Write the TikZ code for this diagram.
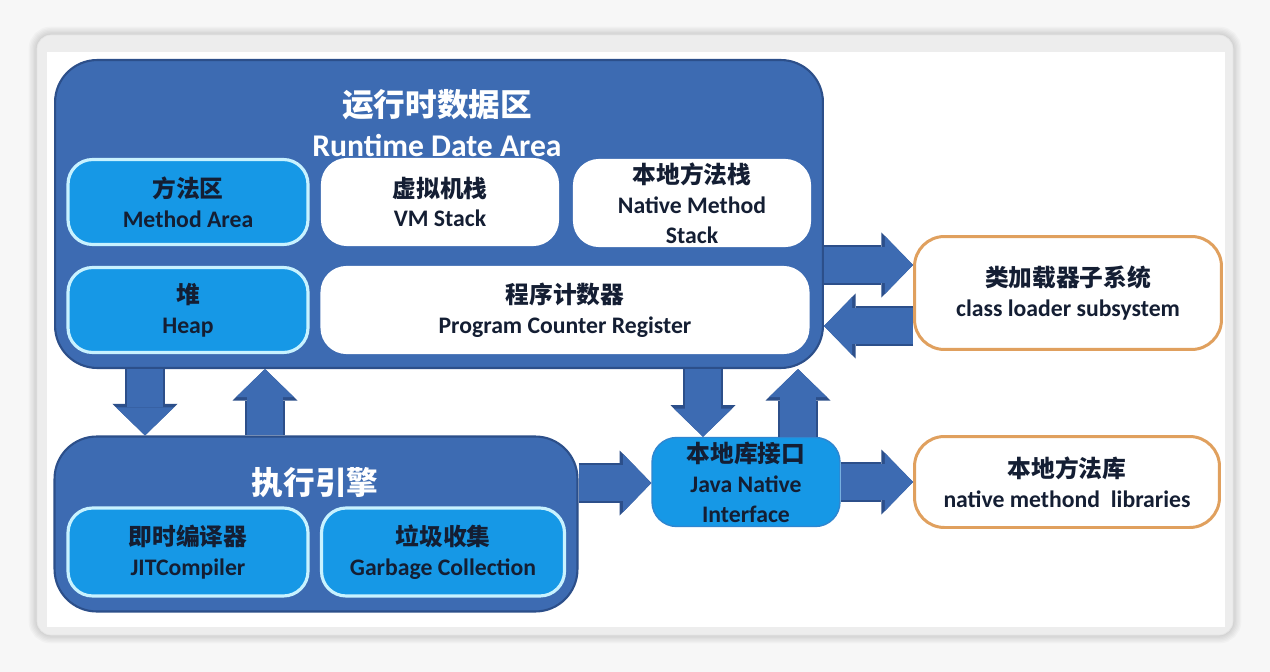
\documentclass[tikz,border=0pt]{standalone}
\usepackage{fontspec}
\setmainfont{Carlito}
\newfontfamily\cjk{Noto Sans CJK SC}
\usepackage{xcolor}
\usepackage{tikz}
\usetikzlibrary{arrows.meta,positioning,calc}

\definecolor{rdablue}{HTML}{3D6BB2}
\definecolor{rdaedge}{HTML}{2C4F8A}
\definecolor{skyblue}{HTML}{1698E6}
\definecolor{skyedge}{HTML}{C8F2FF}
\definecolor{jniedge}{HTML}{2F86D0}
\definecolor{loaderedge}{HTML}{E0A05E}
\definecolor{inktext}{HTML}{141E33}

\begin{document}
\begin{tikzpicture}[
  x=0.02cm, y=-0.02cm,
  area/.style={draw=rdaedge, line width=1.2pt, fill=rdablue, rounded corners=24pt},
  part/.style={draw=skyedge, line width=1.8pt, fill=skyblue, rounded corners=14pt, align=center, text=inktext, font=\bfseries\fontsize{13.5}{17}\selectfont, inner sep=1pt},
  whitepart/.style={part, fill=white, draw=white},
  jnibox/.style={part, draw=jniedge, line width=0.8pt},
  outer/.style={draw=loaderedge, line width=1.7pt, fill=white, rounded corners=17pt, align=center, text=inktext, font=\bfseries\fontsize{13.5}{17}\selectfont},
  headline/.style={text=white, font=\bfseries\fontsize{18}{22}\selectfont},
  fat/.style={draw=rdablue, line width=20pt, -{Triangle[length=16pt, width=33pt, line width=0pt]},
    preaction={draw=rdaedge, line width=22.5pt, -{Triangle[length=18pt, width=37pt, line width=0pt]}}}
]

\useasboundingbox (0,0) rectangle (1270,672);
\fill[black!3] (0,0) rectangle (1270,672);
\foreach \s in {1,...,6}
  \draw[black, opacity=0.025, line width=\s*1.6pt, rounded corners=8pt] (37,35) rectangle (1233,635);
\filldraw[fill=black!7, draw=black!10, rounded corners=8pt] (37,35) rectangle (1233,635);
\fill[white] (47,52) rectangle (1225,627);

\node[area, minimum width=15.36cm, minimum height=6.16cm] (rda) at (439,214) {};
\node[headline] (rdazh) at (437,105) {\cjk 运行时数据区};
\node[headline] (rdaen) at (437,145) {Runtime Date Area};

\node[part, minimum width=4.8cm, minimum height=1.7cm] (method) at (188,202) {{\cjk 方法区}\\Method Area};
\node[whitepart, minimum width=4.7cm, minimum height=1.7cm] (vmstack) at (440,202) {{\cjk 虚拟机栈}\\VM Stack};
\node[whitepart, minimum width=4.7cm, minimum height=1.7cm] (nativestack) at (692,203) {{\cjk 本地方法栈}\\Native Method\\Stack};
\node[part, minimum width=4.8cm, minimum height=1.7cm] (heap) at (188,310) {{\cjk 堆}\\Heap};
\node[whitepart, minimum width=9.72cm, minimum height=1.7cm] (pcr) at (565,310) {{\cjk 程序计数器}\\Program Counter Register};

\node[area, minimum width=10.46cm, minimum height=3.5cm] (engine) at (316,524) {};
\node[headline] (enginezh) at (315,483) {\cjk 执行引擎};
\node[part, minimum width=4.8cm, minimum height=1.76cm] (jit) at (188,552) {{\cjk 即时编译器}\\JITCompiler};
\node[part, minimum width=4.86cm, minimum height=1.76cm] (gc) at (443,552) {{\cjk 垃圾收集}\\Garbage Collection};

\node[jnibox, minimum width=3.76cm, minimum height=1.78cm] (jni) at (746,482) {{\cjk 本地库接口}\\Java Native\\Interface};
\node[outer, minimum width=6.14cm, minimum height=2.26cm] (loader) at (1068,293) {{\cjk 类加载器子系统}\\class loader subsystem};
\node[outer, minimum width=6.1cm, minimum height=1.82cm] (natlib) at (1067,482) {{\cjk 本地方法库}\\native methond\ \ libraries};

\draw[fat] (145,0 |- rda.south) -- (145,0 |- engine.north);
\draw[fat] (265,0 |- engine.north) -- (265,0 |- rda.south);
\draw[fat] (703,0 |- rda.south) -- (703,0 |- jni.north);
\draw[fat] (798,0 |- jni.north) -- (798,0 |- rda.south);
\draw[fat] (engine.east |- 0,483) -- (jni.west |- 0,483);
\draw[fat] (jni.east |- 0,482) -- (natlib.west |- 0,482);
\draw[fat] (rda.east |- 0,265) -- (loader.west |- 0,265);
\draw[fat] (loader.west |- 0,326) -- (rda.east |- 0,326);

\end{tikzpicture}
\end{document}
